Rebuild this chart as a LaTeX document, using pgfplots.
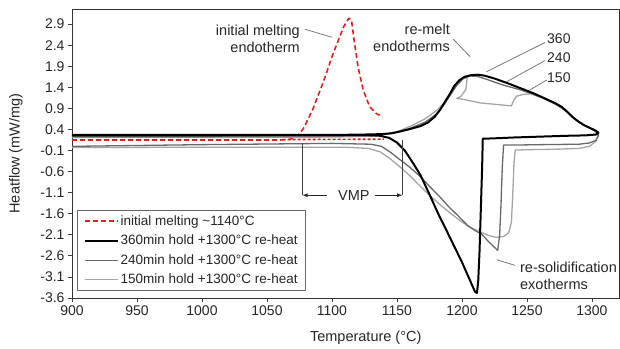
\documentclass[border=0pt]{standalone}
\usepackage{fontspec}
\setmainfont{Liberation Sans}
\usepackage{pgfplots}
\pgfplotsset{compat=1.18}
\definecolor{meltred}{RGB}{222,32,32}
\definecolor{gmid}{RGB}{105,105,105}
\definecolor{glight}{RGB}{165,165,165}
\definecolor{leader}{RGB}{120,120,120}
\begin{document}
\begin{tikzpicture}
\begin{axis}[
  name=ax,
  scale only axis, width=547pt, height=289pt,
  xmin=900, xmax=1320.8, ymin=-3.6, ymax=3.26,
  xtick={900,950,1000,1050,1100,1150,1200,1250,1300},
  xticklabels={900,950,1000,1050,1100,1150,1200,1250,1300},
  ytick={-3.6,-3.1,-2.6,-2.1,-1.6,-1.1,-0.6,-0.1,0.4,0.9,1.4,1.9,2.4,2.9},
  yticklabels={-3.6,-3.1,-2.6,-2.1,-1.6,-1.1,-0.6,-0.1,0.4,0.9,1.4,1.9,2.4,2.9},
  tick align=outside, xtick pos=left, ytick pos=left,
  major tick length=4pt,
  tick style={black!75, line width=0.8pt},
  axis line style={black!80, line width=0.9pt},
  ticklabel style={font=\fontsize{14}{16}\selectfont, text=black!85},
  /pgf/number format/assume math mode=true,
  xlabel={Temperature (°C)}, ylabel={Heatflow (mW/mg)},
  label style={font=\fontsize{14.5}{17}\selectfont, text=black!85},
  xlabel style={at={(axis description cs:0.537,-0.138)}, anchor=center},
  ylabel style={at={(axis description cs:-0.1024,0.5)}, anchor=center},
  legend style={at={(axis description cs:0.0097,0.025)}, anchor=south west,
    draw=black!60, line width=0.8pt, font=\fontsize{13.5}{15}\selectfont,
    text=black!85, row sep=4.2pt, inner xsep=6pt, inner ysep=3pt, cells={anchor=west}},
  legend image code/.code={\path (-8pt,0pt) -- (0pt,0pt); \draw[#1] (0pt,0pt) -- (25pt,0pt);},
  line join=round,
]
\addlegendimage{meltred, line width=1.6pt, dash pattern=on 5pt off 3pt}
\addlegendentry{initial melting \textasciitilde1140°C}
\addlegendimage{black, line width=2pt}
\addlegendentry{360min hold +1300°C re-heat}
\addlegendimage{gmid, line width=1.3pt}
\addlegendentry{240min hold +1300°C re-heat}
\addlegendimage{glight, line width=1.3pt}
\addlegendentry{150min hold +1300°C re-heat}

% initial melting (red dashed)
\addplot[meltred, line width=1.6pt, dash pattern=on 5pt off 3pt, forget plot] coordinates {
(900,0.15)(1000,0.15)(1060,0.15)(1068,0.17)(1073,0.23)(1078,0.42)(1085,0.86)(1093,1.50)(1101,2.21)(1109,2.84)(1113,3.04)(1115,3.00)(1117,2.53)(1120,1.89)(1124,1.34)(1129,0.94)(1134,0.78)(1139,0.70)
};
\addplot[meltred, line width=1.6pt, dash pattern=on 3pt off 2pt, forget plot] coordinates {
(1062,0.16)(1140,0.17)
};

% 150 min
\addplot[glight, line width=1.3pt, forget plot] coordinates {
(900,0.21)(1000,0.21)(1100,0.22)(1130,0.24)(1142,0.29)(1152,0.37)(1162,0.50)(1172,0.66)(1180,0.84)(1186,1.02)(1191,1.22)(1196,1.45)(1201,1.62)(1204,1.63)(1203,1.35)(1199,1.18)(1196,1.14)(1205,1.09)(1214,1.03)(1228,0.99)(1238,0.96)(1240,1.10)(1242,1.19)(1247,1.23)(1253,1.25)(1262,1.14)(1272,1.0)(1279,0.86)(1285,0.70)(1291,0.56)(1297,0.45)(1302,0.37)(1305,0.28)
(1303,0.12)(1298,0.0)(1290,-0.05)(1270,-0.07)(1250,-0.08)(1241,-0.09)(1240,-0.4)(1239,-1.2)(1238,-1.8)(1236,-2.05)(1232,-2.14)(1226,-2.16)(1220,-2.11)(1214,-2.03)(1206,-1.92)(1198,-1.75)(1190,-1.56)(1183,-1.38)(1175,-1.16)(1168,-0.95)(1160,-0.70)(1152,-0.48)(1145,-0.30)(1137,-0.13)(1128,-0.05)(1110,-0.02)(1000,-0.02)(900,-0.03)
};

% 240 min
\addplot[gmid, line width=1.3pt, forget plot] coordinates {
(900,0.23)(1000,0.23)(1100,0.24)(1130,0.25)(1142,0.29)(1152,0.35)(1162,0.45)(1172,0.58)(1180,0.76)(1186,0.98)(1191,1.22)(1196,1.45)(1201,1.61)(1206,1.67)(1212,1.66)(1220,1.58)(1230,1.47)(1245,1.34)(1258,1.20)(1268,1.07)(1276,0.93)(1282,0.78)(1287,0.64)(1293,0.52)(1299,0.42)(1304,0.33)(1305,0.26)
(1303,0.14)(1298,0.08)(1290,0.05)(1260,0.04)(1240,0.03)(1232,0.03)(1231,-0.5)(1230,-1.4)(1229,-2.1)(1227.5,-2.47)(1221,-2.28)(1215,-2.08)(1210,-2.0)(1204,-1.87)(1198,-1.68)(1190,-1.44)(1183,-1.20)(1175,-0.95)(1168,-0.72)(1160,-0.50)(1152,-0.31)(1145,-0.14)(1138,0.0)(1130,0.05)(1100,0.07)(1000,0.04)(900,0.0)
};

% 360 min
\addplot[black, line width=2pt, forget plot] coordinates {
(900,0.26)(950,0.26)(1000,0.26)(1050,0.27)(1100,0.27)(1125,0.28)(1138,0.29)(1146,0.31)(1152,0.35)(1160,0.41)(1168,0.48)(1174,0.57)(1179,0.70)(1183,0.86)(1187,1.06)(1191,1.26)(1194,1.43)(1198,1.57)(1202,1.65)(1207,1.69)(1212,1.70)(1217,1.68)(1225,1.61)(1235,1.50)(1245,1.38)(1255,1.26)(1265,1.12)(1272,1.02)(1277,0.93)(1281,0.82)(1285,0.70)(1289,0.60)(1294,0.50)(1299,0.43)(1303,0.37)(1305,0.32)
(1303,0.28)(1295,0.26)(1280,0.25)(1260,0.23)(1240,0.21)(1225,0.19)(1216,0.18)(1215.5,-0.5)(1214.5,-1.5)(1213.5,-2.5)(1212.5,-3.2)(1211.5,-3.48)(1210,-3.45)(1200,-2.75)(1188,-1.99)(1182,-1.62)(1175,-1.14)(1168,-0.68)(1162,-0.38)(1156,-0.10)(1150,0.09)(1144,0.20)(1137,0.25)(1125,0.27)(1100,0.27)(1000,0.27)(900,0.27)
};

% annotations
\begin{scope}[font=\fontsize{14.5}{17}\selectfont, text=black!85]
\node[anchor=east, align=right, inner sep=0pt] at (axis cs:1075.4,2.56) {initial melting\\endotherm};
\node[anchor=east, align=right, inner sep=0pt] at (axis cs:1190.8,2.574) {re-melt\\endotherms};
\node[anchor=west, inner sep=0pt, font=\fontsize{14}{16}\selectfont] at (axis cs:1265.4,2.55) {360};
\node[anchor=west, inner sep=0pt, font=\fontsize{14}{16}\selectfont] at (axis cs:1265.4,2.115) {240};
\node[anchor=west, inner sep=0pt, font=\fontsize{14}{16}\selectfont] at (axis cs:1265.4,1.64) {150};
\node[anchor=center, inner sep=0pt] at (axis cs:1116.9,-1.16) {VMP};
\node[anchor=west, align=left, inner sep=0pt] at (axis cs:1244.6,-3.08) {re-solidification\\exotherms};
\end{scope}
\draw[leader, line width=0.8pt] (axis cs:1079.2,2.78) -- (axis cs:1099.8,2.59);
\draw[leader, line width=0.8pt] (axis cs:1193.3,2.543) -- (axis cs:1206.2,2.13);
\draw[leader, line width=0.8pt] (axis cs:1263.8,2.462) -- (axis cs:1219,1.773);
\draw[leader, line width=0.8pt] (axis cs:1263.8,2.034) -- (axis cs:1234.4,1.535);
\draw[leader, line width=0.8pt] (axis cs:1265.2,1.575) -- (axis cs:1252.3,1.338);
\draw[leader, line width=0.8pt] (axis cs:1226.7,-2.69) -- (axis cs:1240.8,-2.826);
\draw[black!75, line width=0.8pt] (axis cs:1077,0.08) -- (axis cs:1077,-1.16);
\draw[black!75, line width=0.8pt] (axis cs:1154.5,0.15) -- (axis cs:1154.5,-1.16);
\draw[black!85, line width=0.8pt, -latex] (axis cs:1096,-1.16) -- (axis cs:1077.3,-1.16);
\draw[black!85, line width=0.8pt, -latex] (axis cs:1133,-1.16) -- (axis cs:1154.2,-1.16);
\end{axis}
\pgfresetboundingbox
\path ([shift={(-72pt,-51pt)}]ax.south west) rectangle ([shift={(1pt,9pt)}]ax.north east);
\end{tikzpicture}
\end{document}
